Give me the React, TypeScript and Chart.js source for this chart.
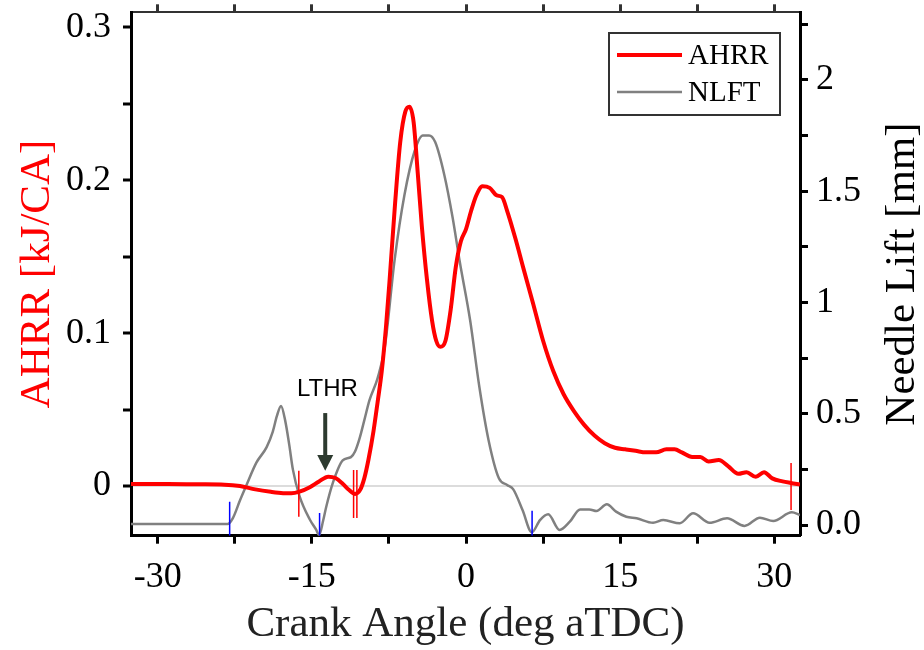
import React, { useEffect, useRef } from 'react';
import { Chart, registerables } from 'chart.js';

Chart.register(...registerables);

// ---- data ----
const ahrrAngle = [-32.6, -29, -26, -23.5, -22, -20.5, -19, -17.8, -17.0, -16.2, -15.2, -14.3, -13.4, -12.7, -12.0, -11.4, -10.8, -10.3, -9.9, -9.5, -9.0, -8.6, -8.2, -7.8, -7.4, -6.9, -6.4, -5.9, -5.5, -5.1, -4.7, -4.3, -3.8, -3.3, -2.9, -2.5, -2.0, -1.5, -1.0, -0.5, 0.0, 0.5, 1.0, 1.6, 2.3, 3.0, 3.5, 4.0, 4.8, 5.6, 6.5, 7.5, 8.5, 9.5, 10.5, 11.5, 12.5, 13.5, 14.5, 15.5, 16.5, 17.5, 18.5, 19.5, 20.3, 21, 22, 22.8, 23.6, 24.6, 25.5, 26.5, 27.3, 28.2, 29.0, 29.8, 30.8, 31.6, 32.5];
const ahrrValue = [0.0013, 0.0013, 0.0011, 0.0009, 0.0, -0.0022, -0.0038, -0.0047, -0.0048, -0.0037, -0.0008, 0.003, 0.0061, 0.0052, 0.0015, -0.0025, -0.0052, -0.0025, 0.005, 0.017, 0.036, 0.055, 0.075, 0.103, 0.138, 0.185, 0.225, 0.245, 0.248, 0.238, 0.205, 0.17, 0.135, 0.108, 0.095, 0.091, 0.095, 0.115, 0.143, 0.16, 0.168, 0.18, 0.19, 0.196, 0.195, 0.19, 0.189, 0.18, 0.162, 0.142, 0.12, 0.095, 0.075, 0.06, 0.049, 0.04, 0.033, 0.028, 0.025, 0.024, 0.023, 0.022, 0.022, 0.024, 0.024, 0.022, 0.019, 0.019, 0.016, 0.017, 0.013, 0.008, 0.009, 0.006, 0.009, 0.005, 0.003, 0.002, 0.001];

const nlftAngle = [-32.6, -28, -25, -23.2, -22.7, -22.0, -21.4, -20.4, -19.4, -18.8, -18.4, -18.0, -17.6, -17.2, -16.85, -16.2, -15.2, -14.6, -14.3, -13.9, -13.6, -12.95, -12.0, -11.2, -10.8, -10.35, -9.9, -9.4, -8.6, -7.9, -6.95, -6.0, -5.0, -4.2, -3.6, -3.0, -2.1, -1.3, -0.6, 0.4, 1.3, 2.2, 3.2, 4.0, 4.6, 5.5, 6.4, 7.2, 8.0, 9.1, 10.1, 11.1, 12.0, 12.7, 13.7, 14.6, 15.6, 16.6, 18.2, 19.2, 20.8, 22.1, 23.7, 25.4, 27.1, 28.6, 29.9, 31.7, 32.5];
const nlftValue = [0.004, 0.005, 0.004, 0.004, 0.03, 0.11, 0.175, 0.28, 0.35, 0.42, 0.49, 0.535, 0.47, 0.36, 0.25, 0.13, 0.025, -0.02, -0.045, 0.02, 0.082, 0.19, 0.29, 0.305, 0.33, 0.39, 0.47, 0.56, 0.66, 0.8, 1.19, 1.48, 1.68, 1.75, 1.75, 1.72, 1.57, 1.38, 1.18, 0.92, 0.62, 0.38, 0.21, 0.18, 0.16, 0.067, -0.033, 0.022, 0.048, -0.022, 0.015, 0.07, 0.07, 0.063, 0.093, 0.06, 0.037, 0.03, 0.01, 0.022, 0.008, 0.053, 0.01, 0.03, -0.004, 0.033, 0.018, 0.057, 0.045];

const blueMarkAngle = [-23.0, -14.25, 6.43];
const blueMarkTop = [-0.0103, -0.0177, -0.0162];
const redMarkAngle = [-16.27, -10.94, -10.62, 31.63];
const redMarkTop = [0.01, 0.0105, 0.0105, 0.015];
const redMarkBottom = [-0.0201, -0.0209, -0.0209, -0.0157];

const xTicks = [-30, -22.5, -15, -7.5, 0, 7.5, 15, 22.5, 30];
const xTickLabels = ['-30', '', '-15', '', '0', '', '15', '', '30'];
const ahrrTicks = [0, 0.05, 0.1, 0.15, 0.2, 0.25, 0.3];
const ahrrTickLabels = ['0', '', '0.1', '', '0.2', '', '0.3'];
const liftTicks = [0, 0.25, 0.5, 0.75, 1, 1.25, 1.5, 1.75, 2, 2.25];
const liftTickLabels = ['0.0', '', '0.5', '', '1', '', '1.5', '', '2', ''];

const X_MIN = -32.6, X_MAX = 32.5;
const Y_MIN = -0.0325, Y_MAX = 0.3098;
const Y1_MIN = -0.048, Y1_MAX = 2.303;

const SERIF = '"Liberation Serif", "Times New Roman", serif';
const RIGHT_TITLE = 'Needle Lift [mm]';

function setTicks(values: number[]) {
  return (scale: any) => {
    scale.ticks = values.map((v) => ({ value: v }));
  };
}
function labelFor(values: number[], labels: string[]) {
  return (value: any) => {
    const i = values.findIndex((v) => Math.abs(v - Number(value)) < 1e-9);
    return i >= 0 ? labels[i] : '';
  };
}
function fixSize(w: number | null, h: number | null) {
  return (scale: any) => {
    if (w !== null) scale.width = w;
    if (h !== null) scale.height = h;
    scale.paddingTop = 0;
    scale.paddingBottom = 0;
    scale.paddingLeft = 0;
    scale.paddingRight = 0;
  };
}

const overlayPlugin = {
  id: 'overlay',
  afterDraw(chart: any) {
    const ctx = chart.ctx;
    const xs = chart.scales.x;
    const ys = chart.scales.y;
    const area = chart.chartArea;
    ctx.save();

    // right axis title (reads bottom to top)
    ctx.save();
    ctx.translate(903, (area.top + area.bottom) / 2);
    ctx.rotate(-Math.PI / 2);
    ctx.font = '43px ' + SERIF;
    ctx.fillStyle = '#000';
    ctx.textAlign = 'center';
    ctx.textBaseline = 'middle';
    ctx.fillText(RIGHT_TITLE, 0, 0);
    ctx.restore();

    // LTHR annotation
    ctx.fillStyle = '#000';
    ctx.font = '24px "Liberation Sans", Arial, sans-serif';
    ctx.textAlign = 'center';
    ctx.textBaseline = 'middle';
    ctx.fillText('LTHR', xs.getPixelForValue(-13.48), ys.getPixelForValue(0.0634));
    const ax = xs.getPixelForValue(-13.7);
    const a0 = ys.getPixelForValue(0.0477);
    const a1 = ys.getPixelForValue(0.0203);
    const a2 = ys.getPixelForValue(0.01);
    ctx.strokeStyle = '#2d3a2f';
    ctx.fillStyle = '#2d3a2f';
    ctx.lineWidth = 4;
    ctx.beginPath();
    ctx.moveTo(ax, a0);
    ctx.lineTo(ax, a1 + 1);
    ctx.stroke();
    ctx.beginPath();
    ctx.moveTo(ax - 8, a1);
    ctx.lineTo(ax + 8, a1);
    ctx.lineTo(ax, a2);
    ctx.closePath();
    ctx.fill();

    // legend
    const lx = 609, ly = 33, lw = 171, lh = 82;
    ctx.fillStyle = '#fff';
    ctx.fillRect(lx, ly, lw, lh);
    ctx.strokeStyle = '#333';
    ctx.lineWidth = 2;
    ctx.strokeRect(lx, ly, lw, lh);
    const entries = [
      { label: chart.data.datasets[0].label, color: '#ff0000', width: 4, y: 55 },
      { label: chart.data.datasets[1].label, color: '#808080', width: 2.5, y: 92 },
    ];
    ctx.font = '29px ' + SERIF;
    ctx.textAlign = 'left';
    ctx.textBaseline = 'middle';
    for (const e of entries) {
      ctx.strokeStyle = e.color;
      ctx.lineWidth = e.width;
      ctx.beginPath();
      ctx.moveTo(617, e.y);
      ctx.lineTo(682, e.y);
      ctx.stroke();
      ctx.fillStyle = '#000';
      ctx.fillText(e.label, 688, e.y + 1);
    }
    ctx.restore();
  },
};

export default function App() {
  const ref = useRef<HTMLCanvasElement | null>(null);
  useEffect(() => {
    if (!ref.current) return;
    const markerSets: any[] = [];
    blueMarkAngle.forEach((a, i) => {
      markerSets.push({
        label: 'blue' + i,
        data: [{ x: a, y: blueMarkTop[i] }, { x: a, y: Y_MIN }],
        borderColor: '#0000ff',
        borderWidth: 1.5,
        pointRadius: 0,
        yAxisID: 'y',
        xAxisID: 'x',
      });
    });
    redMarkAngle.forEach((a, i) => {
      markerSets.push({
        label: 'red' + i,
        data: [{ x: a, y: redMarkTop[i] }, { x: a, y: redMarkBottom[i] }],
        borderColor: '#ff0000',
        borderWidth: 1.5,
        pointRadius: 0,
        yAxisID: 'y',
        xAxisID: 'x',
      });
    });
    const chart = new Chart(ref.current, {
      type: 'line',
      data: {
        datasets: [
          {
            label: 'AHRR',
            data: ahrrAngle.map((x, i) => ({ x, y: ahrrValue[i] })),
            borderColor: '#ff0000',
            borderWidth: 4,
            pointRadius: 0,
            cubicInterpolationMode: 'monotone',
            yAxisID: 'y',
            xAxisID: 'x',
            order: 1,
          },
          {
            label: 'NLFT',
            data: nlftAngle.map((x, i) => ({ x, y: nlftValue[i] })),
            borderColor: '#808080',
            borderWidth: 2.5,
            pointRadius: 0,
            cubicInterpolationMode: 'monotone',
            yAxisID: 'y1',
            xAxisID: 'x',
            order: 2,
          },
          ...markerSets,
        ],
      },
      options: {
        animation: false,
        responsive: false,
        maintainAspectRatio: false,
        parsing: false as any,
        layout: { padding: 0 },
        plugins: { legend: { display: false }, tooltip: { enabled: false } },
        scales: {
          x: {
            type: 'linear',
            position: 'bottom',
            min: X_MIN,
            max: X_MAX,
            afterBuildTicks: setTicks(xTicks),
            afterFit: fixSize(null, 114.3),
            border: { display: true, color: '#000', width: 3 },
            grid: { drawOnChartArea: false, drawTicks: true, tickLength: 8, tickWidth: 3, tickColor: '#000' },
            ticks: {
              callback: labelFor(xTicks, xTickLabels),
              font: { family: SERIF, size: 36 },
              color: '#000',
              padding: 12,
              maxRotation: 0,
              autoSkip: false,
            },
            title: {
              display: true,
              text: 'Crank Angle (deg aTDC)',
              font: { family: SERIF, size: 43, lineHeight: 1 },
              color: '#222',
              padding: { top: 0, bottom: 4 },
            },
          },
          xTop: {
            type: 'linear',
            position: 'top',
            min: X_MIN,
            max: X_MAX,
            afterBuildTicks: setTicks(xTicks),
            afterFit: fixSize(null, 12.3),
            border: { display: true, color: '#333', width: 2 },
            grid: { drawOnChartArea: false, drawTicks: true, tickLength: 8, tickWidth: 3, tickColor: '#333' },
            ticks: { display: false },
          },
          y: {
            type: 'linear',
            position: 'left',
            min: Y_MIN,
            max: Y_MAX,
            afterBuildTicks: setTicks(ahrrTicks),
            afterFit: fixSize(131, null),
            border: { display: true, color: '#000', width: 3 },
            grid: {
              drawOnChartArea: true,
              drawTicks: true,
              tickLength: 8,
              tickWidth: 3,
              tickColor: '#000',
              color: (c: any) => (c.tick && c.tick.value === 0 ? '#dcdcdc' : 'rgba(0,0,0,0)'),
              lineWidth: (c: any) => (c.tick && c.tick.value === 0 ? 2 : 0),
            },
            ticks: {
              callback: labelFor(ahrrTicks, ahrrTickLabels),
              font: { family: SERIF, size: 36 },
              color: '#000',
              padding: 12,
              autoSkip: false,
            },
            title: {
              display: true,
              text: 'AHRR [kJ/CA]',
              font: { family: SERIF, size: 43, lineHeight: 1 },
              color: '#ff0000',
              padding: { top: 16, bottom: 0 },
            },
          },
          y1: {
            type: 'linear',
            position: 'right',
            min: Y1_MIN,
            max: Y1_MAX,
            afterBuildTicks: setTicks(liftTicks),
            afterFit: fixSize(124, null),
            border: { display: true, color: '#000', width: 3 },
            grid: { drawOnChartArea: false, drawTicks: true, tickLength: 8, tickWidth: 3, tickColor: '#000' },
            ticks: {
              callback: labelFor(liftTicks, liftTickLabels),
              font: { family: SERIF, size: 36 },
              color: '#000',
              padding: 8,
              autoSkip: false,
            },
            title: { display: false },
          },
        },
      } as any,
      plugins: [overlayPlugin],
    });
    return () => chart.destroy();
  }, []);
  return (
    <div style={{ position: 'fixed', left: 0, top: 0, width: 924, height: 650, background: '#fff' }}>
      <canvas ref={ref} width={924} height={650} style={{ display: 'block', width: 924, height: 650 }} />
    </div>
  );
}
